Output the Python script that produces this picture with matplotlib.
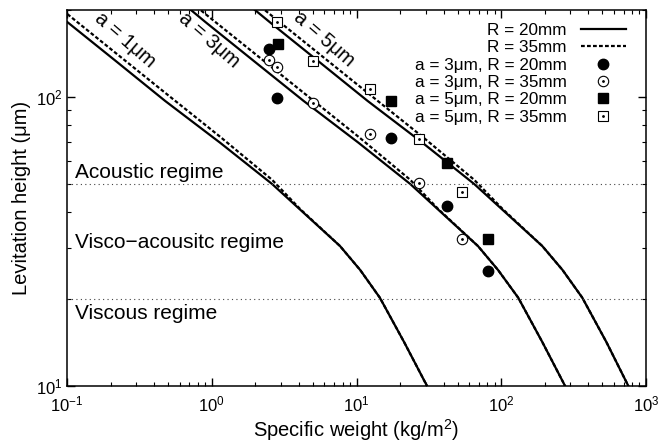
# Levitation height vs specific weight, log-log, gnuplot look

import matplotlib
matplotlib.use("Agg")
import matplotlib.pyplot as plt
from matplotlib.lines import Line2D

plt.rcParams["font.family"] = ["Liberation Sans", "DejaVu Sans"]
plt.rcParams["mathtext.fontset"] = "custom"
plt.rcParams["mathtext.rm"] = "Liberation Sans"
plt.rcParams["mathtext.it"] = "Liberation Sans:italic"

# Theory curves, R = 20mm (solid). Heights shared by the three particle sizes
H_SOLID = [217, 182, 133, 97, 69.5, 50, 30.5, 25.2, 20.2, 14.2, 10]
W_A1_SOLID = [0.065, 0.1, 0.218, 0.475, 1.14, 2.61, 7.69, 10.6, 14.5, 21.3, 30.7]
W_A3_SOLID = [0.59, 0.9, 1.96, 4.3, 10.3, 23.5, 69, 95, 131, 192, 276]
W_A5_SOLID = [1.63, 2.5, 5.45, 11.9, 28.5, 65, 192, 265, 363, 532, 755]

# Theory curves, R = 35mm (dashed)
H_DASHED = [231, 194, 103.5, 72.9, 51.7, 41.0, 30.5, 25.2, 20.2, 14.2, 10]
W_A1_DASHED = [0.065, 0.1, 0.475, 1.14, 2.61, 4.07, 7.69, 10.6, 14.5, 21.3, 30.7]
W_A3_DASHED = [0.59, 0.9, 4.3, 10.3, 23.5, 36.6, 69, 95, 131, 192, 276]
W_A5_DASHED = [1.63, 2.5, 11.9, 28.5, 65, 102, 192, 265, 363, 532, 755]

# Measured points
A3_R20_W = [2.49, 2.82, 17.3, 42.2, 81.0]
A3_R20_H = [146, 99.4, 72.3, 42.0, 25.0]
A3_R35_W = [2.49, 2.82, 5.0, 12.4, 27.0, 53.6]
A3_R35_H = [134.7, 127.3, 95.6, 74.6, 50.5, 32.3]
A5_R20_W = [2.87, 17.3, 42.2, 81.0]
A5_R20_H = [153, 97.1, 59.2, 32.3]
A5_R35_W = [2.82, 5.0, 12.4, 27.0, 53.6]
A5_R35_H = [182.4, 133.6, 106.8, 71.7, 47.0]

# Regime boundaries (um)
REGIME_BOUNDS = [50, 20]

CURVE_LABELS = ["a = 1μm", "a = 3μm", "a = 5μm"]
CURVE_LABEL_POS = [(0.25, 157), (0.96, 157), (5.95, 159)]

REGIME_LABELS = ["Acoustic regime", "Visco\u2212acousitc regime", "Viscous regime"]
REGIME_LABEL_H = [52.6, 30.1, 17.1]

DASHES = (1.7, 1.0)
LW = 1.6
TEXT_SIZE = 15

fig = plt.figure(figsize=(6.63, 4.44), dpi=100)
ax = fig.add_axes([0.1011, 0.1306, 0.8733, 0.8469])

for w in [W_A1_SOLID, W_A3_SOLID, W_A5_SOLID]:
    ax.plot(w, H_SOLID, color="black", lw=LW)
for w in [W_A1_DASHED, W_A3_DASHED, W_A5_DASHED]:
    ax.plot(w, H_DASHED, color="black", lw=LW, dashes=DASHES)

for h in REGIME_BOUNDS:
    ax.axhline(h, color="#444444", lw=0.8, linestyle=(0, (1, 3)))

# open markers in gnuplot carry a small dot in the middle
ax.plot(A3_R20_W, A3_R20_H, "o", color="black", ms=7.5, ls="none")
ax.plot(A3_R35_W, A3_R35_H, "o", mfc="white", mec="black", mew=0.8, ms=7.5, ls="none")
ax.plot(A3_R35_W, A3_R35_H, "o", color="black", ms=1, ls="none")
ax.plot(A5_R20_W, A5_R20_H, "s", color="black", ms=7.5, ls="none")
ax.plot(A5_R35_W, A5_R35_H, "s", mfc="white", mec="black", mew=0.8, ms=7, ls="none")
ax.plot(A5_R35_W, A5_R35_H, "o", color="black", ms=1, ls="none")

for label, (x, y) in zip(CURVE_LABELS, CURVE_LABEL_POS):
    ax.text(x, y, label, rotation=-41, ha="center", va="center", fontsize=14.5,
            rotation_mode="anchor")

for label, y in zip(REGIME_LABELS, REGIME_LABEL_H):
    ax.text(0.113, y, label, ha="left", va="baseline", fontsize=TEXT_SIZE)

ax.set_xscale("log")
ax.set_yscale("log")
ax.set_xlim(0.1, 1000)
ax.set_ylim(10, 200)

ax.set_xlabel("Specific weight (kg/m$^2$)", fontsize=14.5, labelpad=2)
ax.set_ylabel("Levitation height (μm)", fontsize=14.5, labelpad=3)

ax.tick_params(which="both", direction="in", top=True, right=True, labelsize=12)
ax.tick_params(which="major", length=6, width=1)
ax.tick_params(which="minor", length=3, width=0.8)
ax.tick_params(axis="x", pad=6)
for s in ax.spines.values():
    s.set_linewidth(1.1)

# Legend with text on the left and sample on the right
solid = Line2D([], [], color="black", lw=LW)
dashed = Line2D([], [], color="black", lw=LW, dashes=DASHES)
fc = Line2D([], [], marker="o", color="black", ms=7.5, ls="none")
oc = Line2D([], [], marker="o", mfc="white", mec="black", mew=0.8, ms=7.5, ls="none")
dot = Line2D([], [], marker="o", color="black", ms=1, ls="none")
fs = Line2D([], [], marker="s", color="black", ms=7.5, ls="none")
os_ = Line2D([], [], marker="s", mfc="white", mec="black", mew=0.8, ms=7, ls="none")

ax.legend([solid, dashed, fc, (oc, dot), fs, (os_, dot)],
          ["R = 20mm", "R = 35mm", "a = 3μm, R = 20mm", "a = 3μm, R = 35mm",
           "a = 5μm, R = 20mm", "a = 5μm, R = 35mm"],
          loc="upper right", bbox_to_anchor=(0.977, 0.984), frameon=False,
          markerfirst=False, fontsize=12.3, handlelength=2.65, labelspacing=0.14,
          handletextpad=0.8, borderaxespad=0.0, numpoints=1)

fig.savefig("out.png", dpi=100)
